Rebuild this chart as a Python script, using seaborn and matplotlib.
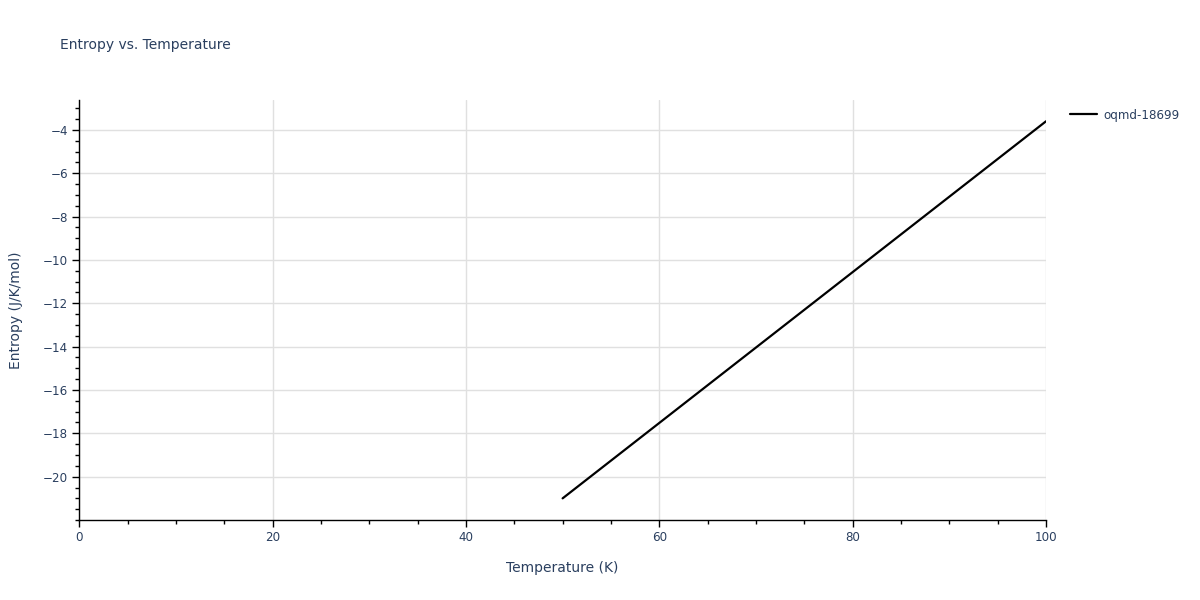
import matplotlib
matplotlib.use("Agg")
import matplotlib.pyplot as plt
import seaborn as sns
import pandas as pd
from matplotlib.ticker import MultipleLocator, FixedLocator

# data
temperature = [50, 60, 70, 80, 90, 100]
entropy = [-21.0, -17.52, -14.04, -10.56, -7.08, -3.6]
series_name = "oqmd-18699"
y_ticks = [-20, -18, -16, -14, -12, -10, -8, -6, -4]

df = pd.DataFrame({"Temperature (K)": temperature, "Entropy (J/K/mol)": entropy, "id": series_name})

sns.set_style("white")
plt.rcParams["font.family"] = ["DejaVu Sans"]
text_col = "#2a3f5f"

fig = plt.figure(figsize=(12, 6), dpi=100)
ax = fig.add_axes([0.066, 0.1333, 0.8057, 0.7])

sns.lineplot(data=df, x="Temperature (K)", y="Entropy (J/K/mol)", hue="id",
             palette=["black"], linewidth=1.6, ax=ax)

ax.set_xlim(0, 100)
ax.set_ylim(-22.0, -2.62)
ax.xaxis.set_major_locator(MultipleLocator(20))
ax.xaxis.set_minor_locator(MultipleLocator(5))
ax.yaxis.set_major_locator(FixedLocator(y_ticks))
ax.yaxis.set_minor_locator(MultipleLocator(0.5))
ax.grid(True, which="major", color="#e0e0e0", linewidth=1)
ax.set_axisbelow(True)

for s in ["top", "right"]:
    ax.spines[s].set_visible(False)
for s in ["left", "bottom"]:
    ax.spines[s].set_color("black")
    ax.spines[s].set_linewidth(1)

ax.tick_params(which="both", bottom=True, left=True)
ax.tick_params(which="major", direction="out", length=5, width=1, color="black",
               labelsize=8.6, labelcolor=text_col, pad=3)
ax.tick_params(which="minor", direction="out", length=3, width=1, color="black")
ax.yaxis.set_major_formatter(plt.FuncFormatter(lambda v, p: f"{v:.0f}".replace("-", "\u2212")))

ax.set_xlabel("Temperature (K)", fontsize=10, color=text_col, labelpad=12)
ax.set_ylabel("Entropy (J/K/mol)", fontsize=10, color=text_col, labelpad=14)

fig.text(0.05, 0.925, "Entropy vs. Temperature", fontsize=10, color=text_col, va="center")

ax.legend(loc="upper left", bbox_to_anchor=(1.014, 1.005), frameon=False,
          fontsize=8.6, labelcolor=text_col, handlelength=2.2, handletextpad=0.6)

fig.savefig("out.png", dpi=100)
